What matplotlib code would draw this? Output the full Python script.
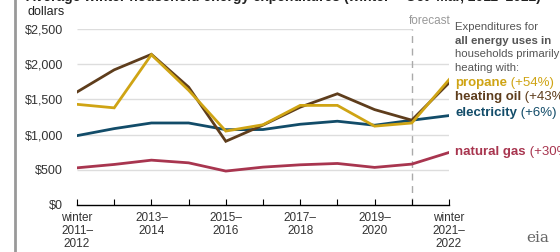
import numpy as np
import matplotlib
matplotlib.use("Agg")
import matplotlib.pyplot as plt

plt.rcParams["font.family"] = ["Liberation Sans", "DejaVu Sans"]

# winter 2011-12 ... winter 2021-22
xlabels = ["winter\n2011–\n2012", "", "2013–\n2014", "", "2015–\n2016", "",
           "2017–\n2018", "", "2019–\n2020", "", "winter\n2021–\n2022"]

propane     = [1430, 1380, 2135, 1630, 1050, 1140, 1415, 1415, 1120, 1165, 1780]
heating_oil = [1605, 1920, 2140, 1675, 905, 1135, 1390, 1580, 1355, 1205, 1735]
electricity = [985, 1085, 1165, 1165, 1070, 1072, 1147, 1190, 1133, 1204, 1270]
natural_gas = [528, 576, 637, 599, 482, 538, 571, 590, 534, 581, 746]

series = [
    ("natural gas", "(+30%)", natural_gas, "#a8354f", 0.397),
    ("electricity", "(+6%)",  electricity, "#124c69", 0.552),
    ("heating oil", "(+43%)", heating_oil, "#5e3d1c", 0.615),
    ("propane",     "(+54%)", propane,     "#cfa414", 0.671),
]

fig = plt.figure(figsize=(5.6, 2.52), dpi=100)
ax = fig.add_axes([77/560, 47/252, 372/560, 176/252])

x = np.arange(len(xlabels))

# gridlines
for v in [500, 1000, 1500, 2000]:
    ax.hlines(v, 0, 10, color="#dddddd", lw=1, zorder=1)
ax.hlines(2500, 0, 9, color="#dddddd", lw=1, zorder=1)

# forecast marker
ax.axvline(9, color="#aaaaaa", lw=1, ls=(0, (5, 4)), zorder=1)
ax.text(8.92, 2530, "forecast", color="#999999", fontsize=8.5, ha="left", va="bottom")

for name, pct, vals, color, ly in series:
    ax.plot(x, vals, color=color, lw=2, zorder=3, solid_joinstyle="miter")
    t = fig.text(455/560, ly, name, color=color, fontsize=9.5, fontweight="bold",
                 ha="left", va="center")
    ax.annotate(" " + pct, xy=(1, 0.5), xycoords=t, color=color, fontsize=9.5,
                ha="left", va="center", annotation_clip=False)

note = ["Expenditures for", "all energy uses in", "households primarily", "heating with:"]
for i, line in enumerate(note):
    fig.text(455/560, (252 - 27 - i*13.7)/252, line, color="#555555", fontsize=8.2,
             fontweight="bold" if i == 1 else "normal", ha="left", va="center")

ax.set_xlim(0, 10)
ax.set_ylim(0, 2500)
ax.set_xticks(x)
ax.set_xticklabels(xlabels, fontsize=8.5, color="#333333", linespacing=1.1)
ax.set_yticks([0, 500, 1000, 1500, 2000, 2500])
ax.set_yticklabels(["$0", "$500", "$1,000", "$1,500", "$2,000", "$2,500"],
                   fontsize=9, color="#333333")
ax.tick_params(axis="y", length=0, pad=10)
ax.tick_params(axis="x", direction="in", length=4, pad=5)
for s in ["top", "right", "left"]:
    ax.spines[s].set_visible(False)
ax.spines["bottom"].set_linewidth(1)

fig.text(28/560, 1 - 12/252, "dollars", fontsize=9, color="#222222", ha="left", va="center")
fig.text(26/560, 1 - 1/252, "Average winter household energy expenditures (winter = Oct–Mar, 2011–2022)",
         fontsize=10, fontweight="bold", color="#222222", ha="left", va="baseline")

# left border bar and logo
fig.add_artist(plt.Line2D([15/560, 15/560], [0, 1], color="#999999", lw=2))
fig.text(538/560, 14/252, "eia", fontsize=11, color="#666666", family="serif",
         ha="center", va="center")

fig.savefig("out.png", dpi=100)
